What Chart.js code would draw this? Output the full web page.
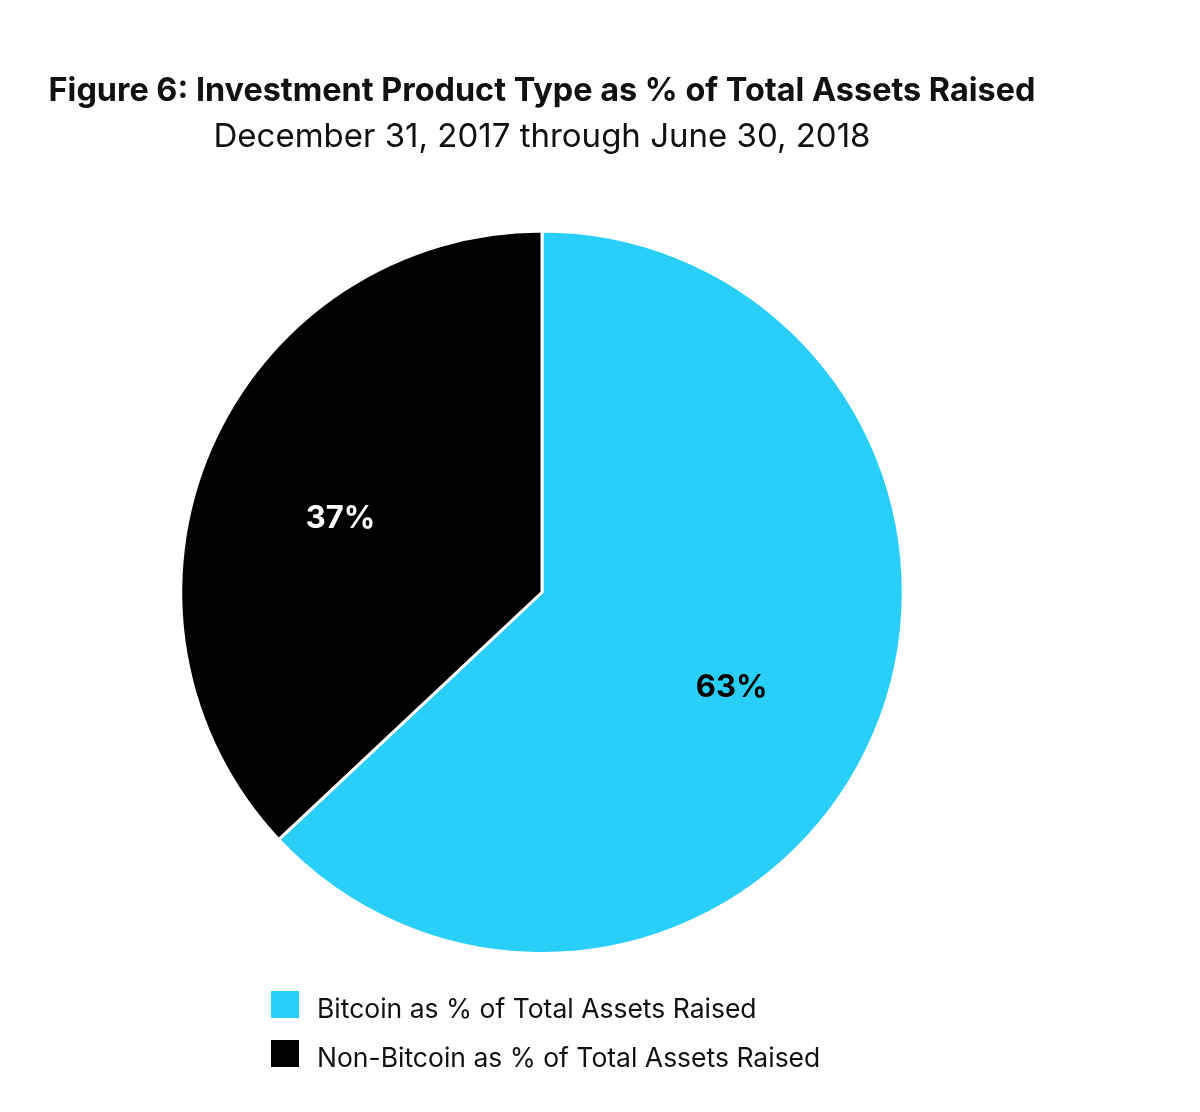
<!DOCTYPE html>
<html>
<head>
<meta charset="utf-8">
<script src="https://cdn.jsdelivr.net/npm/chart.js@4.4.1/dist/chart.umd.min.js"></script>
<style>
  html, body { margin: 0; padding: 0; background: #ffffff; }
  #wrap { position: relative; width: 1200px; height: 1112px; }
  #box { position: absolute; left: 0; top: 0; width: 1084px; height: 1112px; }
  #legend { position: absolute; left: 271px; top: 991px; font-family: Inter, "Open Sans", sans-serif; font-size: 26.5px; color: #111; }
  .item { display: flex; align-items: center; height: 27px; margin-bottom: 22px; }
  .sw { width: 28px; height: 27px; margin-right: 18px; flex: none; }
  .tx { position: relative; top: 3px; }
</style>
</head>
<body>
<div id="wrap">
  <div id="box"><canvas id="c"></canvas></div>
  <div id="legend"></div>
</div>
<script>
const titleText = "Figure 6: Investment Product Type as % of Total Assets Raised";
const subtitleText = "December 31, 2017 through June 30, 2018";
const categories = ["Bitcoin as % of Total Assets Raised", "Non-Bitcoin as % of Total Assets Raised"];
const shares = [63, 37];
const sliceColors = ["#29CFF9", "#000000"];
const labelColors = ["#000000", "#ffffff"];

const valueLabels = {
  id: "valueLabels",
  afterDatasetsDraw(chart) {
    const ctx = chart.ctx;
    const meta = chart.getDatasetMeta(0);
    ctx.save();
    ctx.font = "bold 31px Inter, sans-serif";
    ctx.textAlign = "center";
    ctx.textBaseline = "middle";
    meta.data.forEach((arc, i) => {
      const p = arc.getProps(["x", "y", "startAngle", "endAngle", "outerRadius"], true);
      const mid = (p.startAngle + p.endAngle) / 2;
      const r = p.outerRadius * 0.59;
      ctx.fillStyle = labelColors[i];
      ctx.fillText(shares[i] + "%", p.x + Math.cos(mid) * r - 6, p.y + Math.sin(mid) * r + 11);
    });
    ctx.restore();
  }
};

const chart = new Chart(document.getElementById("c"), {
  type: "pie",
  data: {
    labels: categories,
    datasets: [{
      data: shares,
      backgroundColor: sliceColors,
      borderColor: "#ffffff",
      borderWidth: 3
    }]
  },
  options: {
    responsive: true,
    maintainAspectRatio: false,
    animation: false,
    layout: { padding: { top: 72, bottom: 157, left: 0, right: 0 } },
    plugins: {
      legend: { display: false },
      tooltip: { enabled: false },
      title: {
        display: true,
        text: titleText,
        color: "#111111",
        font: { family: "Inter, sans-serif", size: 32.4, weight: "bold", lineHeight: 1.2 },
        padding: { top: 0, bottom: 6 }
      },
      subtitle: {
        display: true,
        text: subtitleText,
        color: "#111111",
        font: { family: "Inter, sans-serif", size: 33, weight: "normal", lineHeight: 1.2 },
        padding: { top: 0, bottom: 73 }
      }
    }
  },
  plugins: [valueLabels]
});

const legend = document.getElementById("legend");
categories.forEach((name, i) => {
  const row = document.createElement("div");
  row.className = "item";
  const sw = document.createElement("span");
  sw.className = "sw";
  sw.style.background = sliceColors[i];
  const t = document.createElement("span");
  t.className = "tx";
  t.textContent = name;
  row.appendChild(sw);
  row.appendChild(t);
  legend.appendChild(row);
});
</script>
</body>
</html>
